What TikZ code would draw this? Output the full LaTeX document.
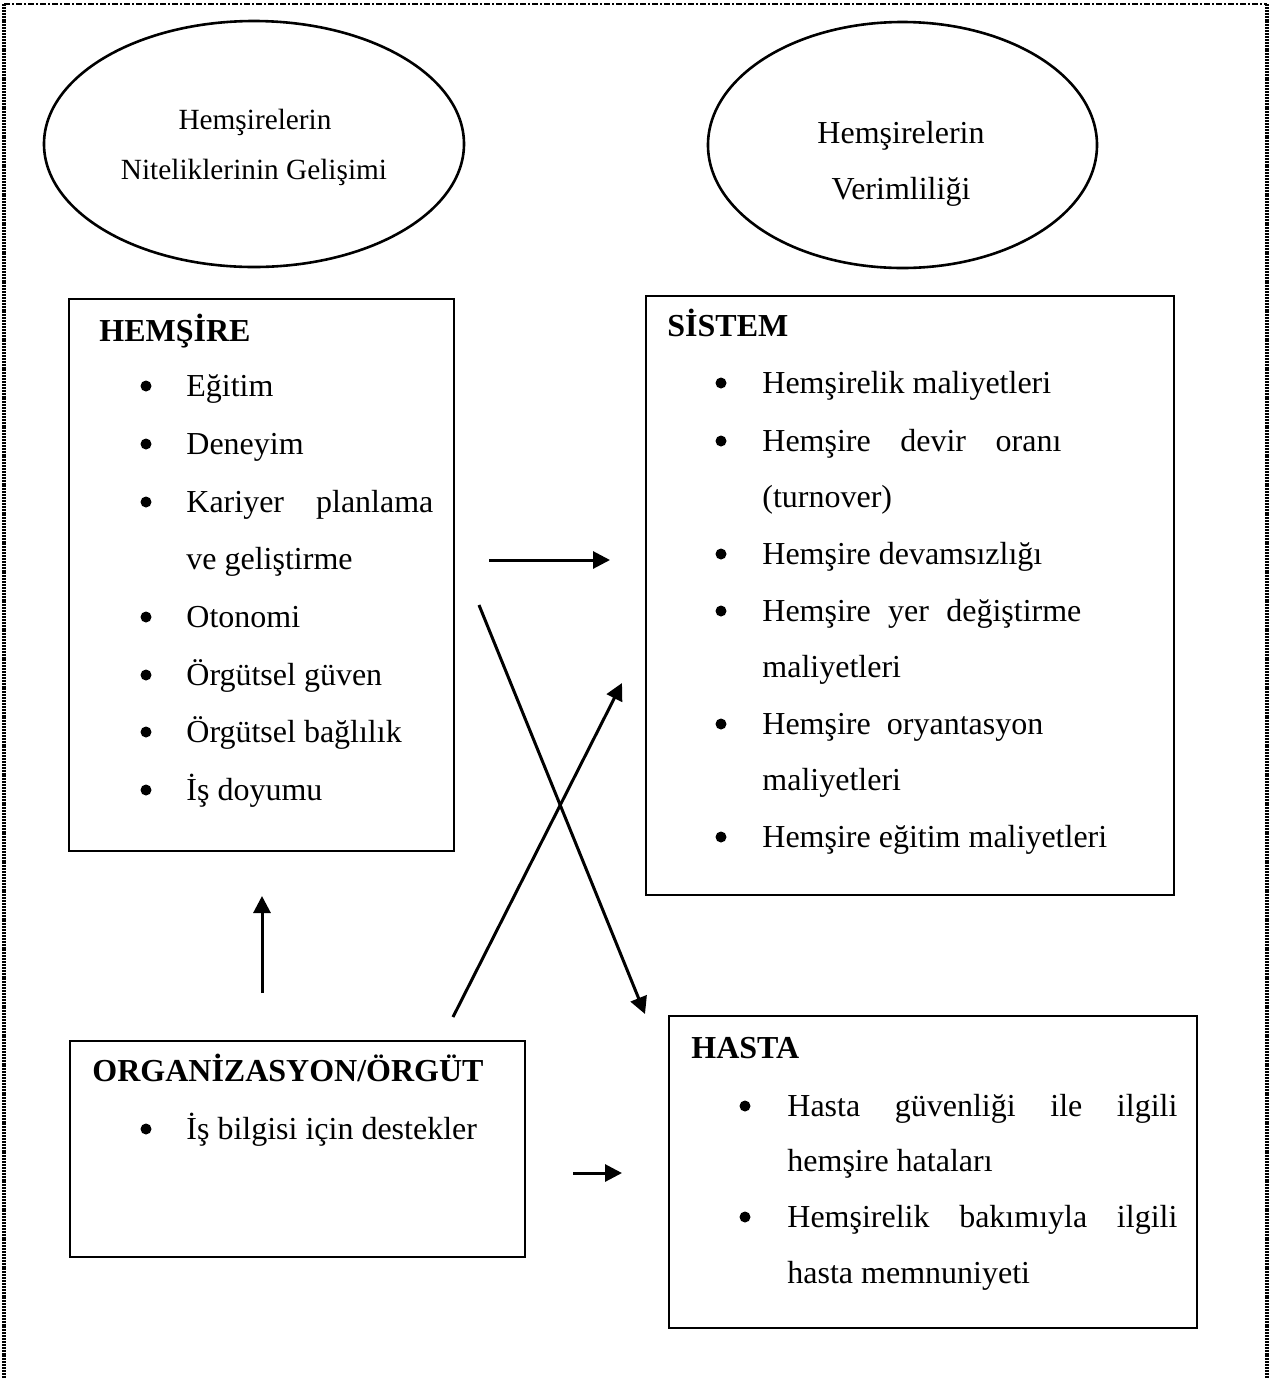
\documentclass[tikz,border=0pt]{standalone}
\usepackage{fontspec}
\setmainfont{Liberation Serif}
\usetikzlibrary{arrows.meta,shapes.geometric,fit}

\begin{document}
\begin{tikzpicture}[x=0.5pt,y=-0.5pt,
  frame/.style={draw,line width=1.4pt,inner sep=0pt},
  bubble/.style={draw,ellipse,line width=1.3pt,inner sep=0pt},
  txt/.style={anchor=base west,inner sep=0pt,font=\fontsize{16pt}{19pt}\selectfont},
  head/.style={anchor=base west,inner sep=0pt,font=\fontsize{16pt}{19pt}\selectfont\bfseries},
  smalltxt/.style={anchor=base,inner sep=0pt,font=\fontsize{14.65pt}{18pt}\selectfont},
  bigtxt/.style={anchor=base,inner sep=0pt,font=\fontsize{16pt}{19pt}\selectfont},
  dot/.style={circle,fill,inner sep=0pt,minimum size=5.5pt},
  flow/.style={line width=1.5pt,-{Triangle[length=8.5pt,width=8.5pt]}},
  topedge/.style={line width=1.3pt,dash pattern=on 3pt off 1pt on 1pt off 1pt},
  sideedge/.style={line width=1.6pt,dash pattern=on 1pt off 0.45pt},
]
\path[use as bounding box] (0,0) rectangle (1271,1378);

% page frame: dash-dot along the top, dotted down both sides
\draw[topedge] (4,4) -- (1267,4);
\draw[sideedge] (4,4) -- (4,1378);
\draw[sideedge] (1267,4) -- (1267,1378);

% outcome ellipses
\node[bubble,minimum width=210pt,minimum height=123pt] (quality) at (254,144) {};
\node[smalltxt] (quality1) at (255,129) {Hemşirelerin};
\node[smalltxt] (quality2) at (254,179) {Niteliklerinin Gelişimi};

\node[bubble,minimum width=194.5pt,minimum height=123pt] (output) at (902.5,145) {};
\node[bigtxt] (output1) at (901,143) {Hemşirelerin};
\node[bigtxt] (output2) at (901,199) {Verimliliği};

% boxes
\node[frame,fit={(69,299) (454,851)}] (nurse) {};
\node[frame,fit={(646,296) (1174,895)}] (system) {};
\node[frame,fit={(70,1041) (525,1257)}] (org) {};
\node[frame,fit={(669,1016) (1197,1328)}] (patient) {};

% HEMŞİRE
\node[head] (nurseT) at (99,341) {HEMŞİRE};
\node[dot] (n1b) at (146,386) {};
\node[txt] (n1) at (186,396) {Eğitim};
\node[dot] (n2b) at (146,444) {};
\node[txt] (n2) at (186,454) {Deneyim};
\node[dot] (n3b) at (146,502) {};
\node[txt] (n3) at (186,512) {\makebox[123.5pt][s]{Kariyer planlama}};
\node[txt] (n3c) at (186,569) {ve geliştirme};
\node[dot] (n4b) at (146,617) {};
\node[txt] (n4) at (186,627) {Otonomi};
\node[dot] (n5b) at (146,675) {};
\node[txt] (n5) at (186,685) {Örgütsel güven};
\node[dot] (n6b) at (146,732) {};
\node[txt] (n6) at (186,742) {Örgütsel bağlılık};
\node[dot] (n7b) at (146,790) {};
\node[txt] (n7) at (186,800) {İş doyumu};

% SİSTEM
\node[head] (systemT) at (667,336) {SİSTEM};
\node[dot] (s1b) at (721,383) {};
\node[txt] (s1) at (762,393) {Hemşirelik maliyetleri};
\node[dot] (s2b) at (721,441) {};
\node[txt] (s2) at (762,451) {\makebox[149.5pt][s]{Hemşire devir oranı}};
\node[txt] (s2c) at (762,507) {(turnover)};
\node[dot] (s3b) at (721,554) {};
\node[txt] (s3) at (762,564) {Hemşire devamsızlığı};
\node[dot] (s4b) at (721,611) {};
\node[txt] (s4) at (762,621) {\makebox[159.5pt][s]{Hemşire yer değiştirme}};
\node[txt] (s4c) at (762,677) {maliyetleri};
\node[dot] (s5b) at (721,724) {};
\node[txt] (s5) at (762,734) {\makebox[140.5pt][s]{Hemşire oryantasyon}};
\node[txt] (s5c) at (762,790) {maliyetleri};
\node[dot] (s6b) at (721,837) {};
\node[txt] (s6) at (762,847) {Hemşire eğitim maliyetleri};

% ORGANİZASYON/ÖRGÜT
\node[head] (orgT) at (92,1081) {ORGANİZASYON/ÖRGÜT};
\node[dot] (o1b) at (146,1129) {};
\node[txt] (o1) at (186,1139) {İş bilgisi için destekler};

% HASTA
\node[head] (patientT) at (691,1058) {HASTA};
\node[dot] (p1b) at (745,1106) {};
\node[txt] (p1) at (787,1116) {\makebox[195pt][s]{Hasta güvenliği ile ilgili}};
\node[txt] (p1c) at (787,1171) {hemşire hataları};
\node[dot] (p2b) at (745,1217) {};
\node[txt] (p2) at (787,1227) {\makebox[195pt][s]{Hemşirelik bakımıyla ilgili}};
\node[txt] (p2c) at (787,1283) {hasta memnuniyeti};

% arrow end points
\coordinate (aS) at (489,560);
\coordinate (aE) at (610,560);
\coordinate (bS) at (479,605);
\coordinate (bE) at (645,1014);
\coordinate (cS) at (453,1017);
\coordinate (cE) at (622,683);
\coordinate (dS) at (262,993);
\coordinate (dE) at (262,896);
\coordinate (eS) at (573,1173);
\coordinate (eE) at (622,1173);

\draw[flow] (aS) -- (aE);
\draw[flow] (bS) -- (bE);
\draw[flow] (cS) -- (cE);
\draw[flow] (dS) -- (dE);
\draw[flow] (eS) -- (eE);
\end{tikzpicture}
\end{document}
